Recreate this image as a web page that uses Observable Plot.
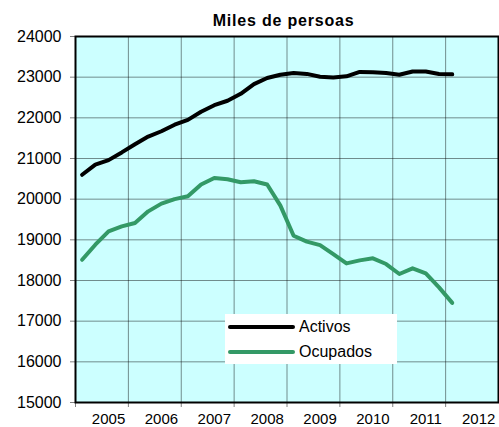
<!DOCTYPE html>
<html>
<head>
<meta charset="utf-8">
<script src="https://cdn.jsdelivr.net/npm/d3@7"></script>
<script src="https://cdn.jsdelivr.net/npm/@observablehq/plot@0.6"></script>
<style>
  body { margin: 0; background: #fff; font-family: "Liberation Sans", Arial, sans-serif; }
  #wrap { position: relative; width: 499px; height: 427px; }
  #title { position: relative; height: 12px; }
  #title span { position: absolute; left: 68px; width: 431px; top: 13px; text-align: center; z-index: 2;
    font-weight: bold; font-size: 16px; line-height: 16px; letter-spacing: 0.8px; color: #000; }
  #legend { position: absolute; left: 225px; top: 314px; width: 172px; height: 50px; background: #fff; }
  .sw { position: absolute; left: 3px; width: 67px; height: 4px; border-radius: 2px; }
  .lt { position: absolute; left: 74px; font-size: 16px; line-height: 16px; color: #000; white-space: nowrap; }
  svg { display: block; }
</style>
</head>
<body>
<div id="wrap">
  <div id="title"><span></span></div>
  <div id="chart"></div>
  <div id="legend"></div>
</div>
<script>
const titleText = "Miles de persoas";
const periods = ["2004T3","2004T4",
  "2005T1","2005T2","2005T3","2005T4",
  "2006T1","2006T2","2006T3","2006T4",
  "2007T1","2007T2","2007T3","2007T4",
  "2008T1","2008T2","2008T3","2008T4",
  "2009T1","2009T2","2009T3","2009T4",
  "2010T1","2010T2","2010T3","2010T4",
  "2011T1","2011T2","2011T3"];
const activos = [20600, 20850, 20960, 21150, 21350, 21540, 21670, 21830, 21950, 22150,
  22310, 22420, 22590, 22830, 22980, 23060, 23100, 23080, 23010, 22990,
  23020, 23130, 23120, 23100, 23060, 23140, 23140, 23080, 23070];
const ocupados = [18510, 18880, 19210, 19330, 19415, 19700, 19890, 20000, 20070, 20360,
  20520, 20490, 20415, 20440, 20360, 19840, 19100, 18955, 18870, 18650,
  18420, 18495, 18545, 18405, 18160, 18300, 18175, 17830, 17450];
const seriesNames = ["Activos", "Ocupados"];
const seriesColors = ["#000000", "#339966"];
const yearLabels = [2005, 2006, 2007, 2008, 2009, 2010, 2011, 2012];
const yTicks = [15000, 16000, 17000, 18000, 19000, 20000, 21000, 22000, 23000, 24000];

const toYear = p => +p.slice(0, 4) + (+p.slice(5) - 1) / 4;
const table = [];
periods.forEach((p, i) => {
  table.push({t: toYear(p), v: activos[i], s: seriesNames[0]});
  table.push({t: toYear(p), v: ocupados[i], s: seriesNames[1]});
});
// category boundaries: each year's group starts 2.5 quarters before its label
const bounds = yearLabels.map(y => y - 0.625);
const xDomain = [bounds[0], yearLabels[yearLabels.length - 1] + 0.375];

document.querySelector("#title span").textContent = titleText;

const chart = Plot.plot({
  width: 499,
  height: 415,
  marginTop: 24,
  marginBottom: 25,
  marginLeft: 75,
  marginRight: 1,
  style: {fontFamily: "'Liberation Sans', Arial, sans-serif", color: "#000", background: "transparent"},
  x: {domain: xDomain, label: null},
  y: {domain: [15000, 24000], label: null},
  color: {domain: seriesNames, range: seriesColors},
  marks: [
    Plot.frame({fill: "#ccffff"}),
    Plot.gridX({ticks: bounds, stroke: "#000", strokeOpacity: 0.45, strokeWidth: 1}),
    Plot.gridY({ticks: yTicks, stroke: "#000", strokeOpacity: 0.45, strokeWidth: 1}),
    Plot.axisY({ticks: yTicks, tickSize: 5, tickPadding: 9, stroke: "#808080", label: null,
      tickFormat: d => String(d), fontSize: 16, style: {letterSpacing: "0.9px"}}),
    Plot.axisX({ticks: bounds, tickSize: 5, stroke: "#808080", label: null, text: null}),
    Plot.axisX({ticks: yearLabels, tickSize: 0, tickPadding: 11, fontSize: 15, label: null,
      tickFormat: d => String(d)}),
    Plot.line(table, {x: "t", y: "v", z: "s", stroke: "s", strokeWidth: 4,
      strokeLinejoin: "round", strokeLinecap: "round", curve: "linear"}),
    Plot.frame({stroke: "#000", strokeWidth: 2})
  ]
});
document.getElementById("chart").appendChild(chart);

const legend = document.getElementById("legend");
const rowTops = [10.7, 36.3];
seriesNames.forEach((name, i) => {
  const sw = document.createElement("div");
  sw.className = "sw";
  sw.style.top = rowTops[i] + "px";
  sw.style.background = seriesColors[i];
  legend.appendChild(sw);
  const lt = document.createElement("div");
  lt.className = "lt";
  lt.style.top = (rowTops[i] - 6) + "px";
  lt.textContent = name;
  legend.appendChild(lt);
});
</script>
</body>
</html>
